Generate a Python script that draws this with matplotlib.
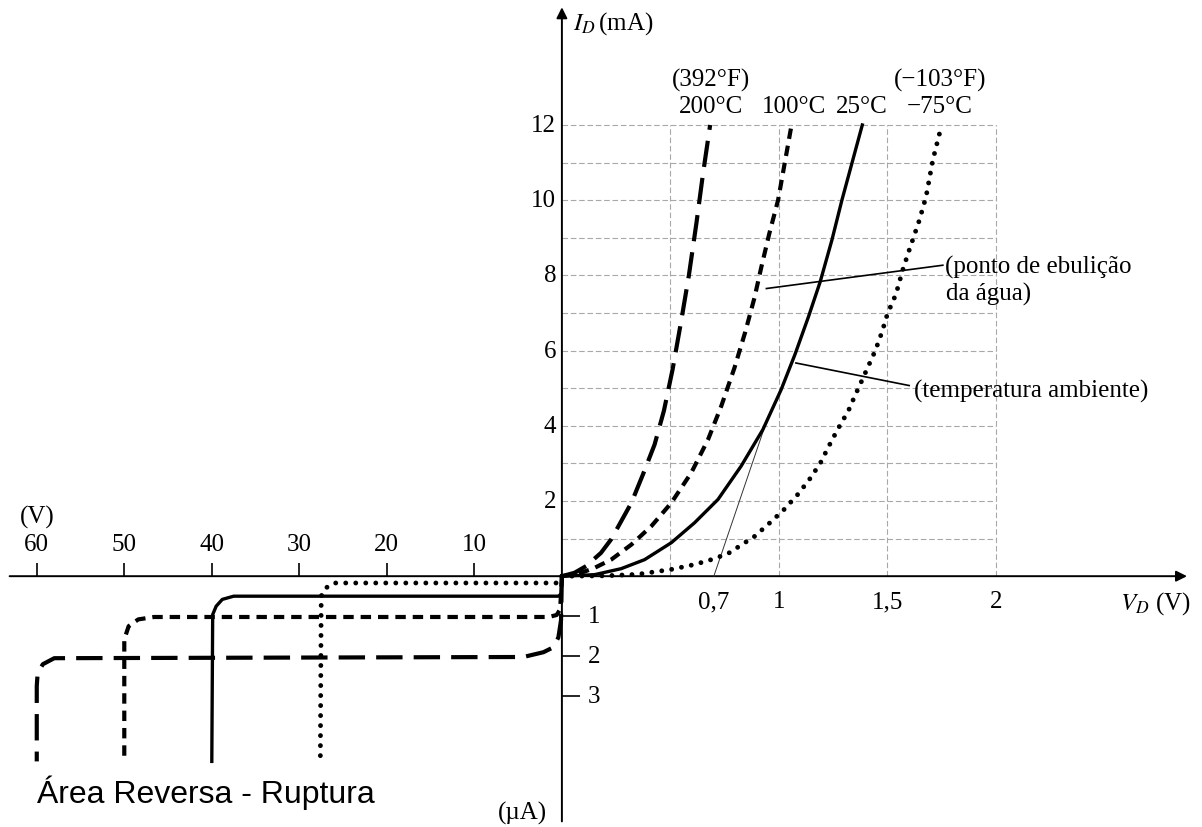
import numpy as np
import matplotlib
matplotlib.use('Agg')
import matplotlib.pyplot as plt

plt.rcParams['font.family'] = ['Liberation Serif', 'DejaVu Serif']
plt.rcParams['mathtext.fontset'] = 'stix'
plt.rcParams['lines.scale_dashes'] = False

# forward region: V_D (V) vs I_D (mA)
v_200 = [0, 0.058, 0.112, 0.18, 0.227, 0.32, 0.373, 0.427, 0.47, 0.51, 0.55, 0.585, 0.62, 0.65, 0.683]
i_200 = [0, 0.09, 0.27, 0.62, 0.98, 1.95, 2.7, 3.5, 4.4, 5.5, 6.8, 8.0, 9.4, 10.7, 12.0]

v_100 = [0, 0.074, 0.15, 0.227, 0.32, 0.412, 0.504, 0.596, 0.673, 0.734, 0.795, 0.845,
         0.887, 0.918, 0.955, 0.996, 1.027, 1.058]
i_100 = [0, 0.06, 0.22, 0.44, 0.84, 1.33, 1.95, 2.75, 3.63, 4.52, 5.54, 6.5,
         7.4, 8.2, 9.1, 10.0, 11.0, 12.0]

v_25 = [0, 0.15, 0.273, 0.381, 0.504, 0.611, 0.719, 0.826, 0.926, 1.01, 1.074, 1.136,
        1.19, 1.244, 1.29, 1.337, 1.384]
i_25 = [0, 0.04, 0.2, 0.44, 0.89, 1.42, 2.04, 2.93, 3.9, 4.96, 5.9, 6.9,
        7.83, 8.94, 10.0, 11.0, 12.0]

v_m75 = [0, 0.2, 0.35, 0.504, 0.611, 0.688, 0.765, 0.888, 0.96, 1.023, 1.086, 1.14, 1.19,
         1.23, 1.27, 1.32, 1.35, 1.374, 1.405, 1.444, 1.475, 1.5, 1.539, 1.57, 1.60,
         1.647, 1.678, 1.709, 1.74]
i_m75 = [0, 0.01, 0.05, 0.18, 0.31, 0.44, 0.6, 1.06, 1.43, 1.77, 2.17, 2.57, 3.0,
         3.46, 3.9, 4.4, 4.8, 5.1, 5.5, 6.0, 6.5, 6.98, 7.5, 8.14, 8.67,
         9.47, 10.1, 11.07, 11.78]

# reverse region: V (V, negative) vs I (uA, negative)
rv_200 = [0, -0.1, -0.4, -1.0, -2.1, -4.4, -58.0, -59.3, -59.9, -60.0, -60.0]
ri_200 = [0, -1.1, -1.53, -1.78, -1.9, -2.02, -2.05, -2.2, -2.42, -2.75, -4.63]

rv_100 = [0, -0.2, -0.6, -1.5, -46.6, -48.4, -49.5, -50.0, -50.0]
ri_100 = [0, -0.83, -0.97, -1.02, -1.02, -1.08, -1.25, -1.58, -4.63]

rv_25 = [0, -0.1, -0.4, -37.5, -38.8, -39.5, -39.9, -40.0]
ri_25 = [0, -0.45, -0.5, -0.5, -0.58, -0.75, -0.96, -4.63]

rv_m75 = [0, -0.4, -26.1, -27.0, -27.5, -27.6]
ri_m75 = [0, -0.17, -0.17, -0.3, -0.5, -4.63]

# tangent (0,7 V) and leader lines
tang_v = [0.70, 0.93]
tang_i = [0.0, 3.9]
lead1_v = [0.942, 1.755]
lead1_i = [7.65, 8.27]
lead2_v = [1.078, 1.60]
lead2_i = [5.67, 5.07]

pos_y_ticks = [2, 4, 6, 8, 10, 12]
pos_x_ticks = [0.7, 1, 1.5, 2]
pos_x_labels = ['0,7', '1', '1,5', '2']
neg_x_ticks = [-10, -20, -30, -40, -50, -60]
neg_y_ticks = [-1, -2, -3]
grid_v = [0.5, 1, 1.5, 2]
grid_i = list(range(1, 13))

temp_v = [0.687, 1.07, 1.38, 1.742]
temp_c = ['200°C', '100°C', '25°C', '−75°C']

kx = 8.75 / 217
ky = 40 / 37.6


def fx(v):
    v = np.asarray(v, float)
    return np.where(v < 0, v * kx, v)


def ix(u):
    u = np.asarray(u, float)
    return np.where(u < 0, u / kx, u)


def fy(v):
    v = np.asarray(v, float)
    return np.where(v < 0, v * ky, v)


def iy(u):
    u = np.asarray(u, float)
    return np.where(u < 0, u / ky, u)


fig = plt.figure(figsize=(12.02, 8.28), dpi=100)
ax = fig.add_axes([0, 0, 1, 1])
ax.set_xscale('function', functions=(fx, ix))
ax.set_yscale('function', functions=(fy, iy))
ax.set_xlim(-64.2, 2.949)
ax.set_ylim(-6.27, 15.35)
ax.axis('off')

# grid
gkw = dict(color='#a8a8a8', lw=0.8, ls=(0, (4, 2)), zorder=1)
ax.hlines(grid_i, 0, 2, **gkw)
ax.vlines(grid_v, 0, 12, **gkw)

# axes with arrows
akw = dict(arrowstyle='-|>', color='k', lw=1.4, mutation_scale=16, shrinkA=0, shrinkB=0)
ax.annotate('', xy=(2.88, 0), xytext=(-63.1, 0), arrowprops=akw, zorder=3)
ax.annotate('', xy=(0, 15.13), xytext=(0, -6.13), arrowprops=akw, zorder=3)

# curves
styles = {
    '200': dict(color='k', lw=3.0, ls=(0, (19, 8))),
    '100': dict(color='k', lw=3.0, ls=(0, (7.5, 5))),
    '25': dict(color='k', lw=2.4, ls='-'),
    'm75': dict(color='k', lw=3.5, ls=(0, (0.01, 7.2)), dash_capstyle='round'),
}
ax.plot(v_200, i_200, **styles['200'], zorder=4)
ax.plot(v_100, i_100, **styles['100'], zorder=4)
ax.plot(v_25, i_25, **styles['25'], zorder=4)
ax.plot(v_m75, i_m75, **styles['m75'], zorder=4)
ax.plot(rv_200, ri_200, **styles['200'], zorder=4)
ax.plot(rv_100, ri_100, **styles['100'], zorder=4)
ax.plot(rv_25, ri_25, **styles['25'], zorder=4)
ax.plot(rv_m75, ri_m75, **styles['m75'], zorder=4)

ax.plot(tang_v, tang_i, color='#333333', lw=0.7, zorder=3)
ax.plot(lead1_v, lead1_i, color='k', lw=1.2, zorder=3)
ax.plot(lead2_v, lead2_i, color='k', lw=1.2, zorder=3)

fs = 18
# tick labels
for t in pos_y_ticks:
    ax.annotate(str(t), xy=(0, t), xytext=(-4, 0), textcoords='offset points',
                ha='right', va='center', fontsize=fs)
for t, lab in zip(pos_x_ticks, pos_x_labels):
    ax.text(t, -0.63, lab, ha='center', va='center', fontsize=fs)
ax.vlines(neg_x_ticks, 0, 0.35, color='k', lw=1.2)
for t in neg_x_ticks:
    ax.text(t, 0.85, str(-t), ha='center', va='center', fontsize=fs)
ax.text(-60, 1.6, '(V)', ha='center', va='center', fontsize=fs)
ax.hlines(neg_y_ticks, 0, 0.085, color='k', lw=1.2)
for t in neg_y_ticks:
    ax.text(0.12, t, str(-t), ha='left', va='center', fontsize=fs)

ax.text(0.05, 14.73, r'$I_D\,$(mA)', ha='left', va='center', fontsize=fs)
ax.text(2.57, -0.65, r'$V_D$ (V)', ha='left', va='center', fontsize=fs)
ax.text(-4.5, -5.9, '(µA)', ha='center', va='center', fontsize=fs)

for v, c in zip(temp_v, temp_c):
    ax.text(v, 12.5, c, ha='center', va='center', fontsize=fs)
ax.text(temp_v[0], 13.2, '(392°F)', ha='center', va='center', fontsize=fs)
ax.text(temp_v[3], 13.2, '(−103°F)', ha='center', va='center', fontsize=fs)

ax.text(1.765, 8.23, '(ponto de ebulição', ha='left', va='center', fontsize=fs)
ax.text(1.768, 7.52, 'da água)', ha='left', va='center', fontsize=fs)
ax.text(1.62, 4.93, '(temperatura ambiente)', ha='left', va='center', fontsize=fs)

ax.text(-60.0, -5.4, 'Área Reversa - Ruptura', ha='left', va='center',
        fontsize=23, family=['Liberation Sans', 'DejaVu Sans'])

fig.savefig('out.png', dpi=100)
